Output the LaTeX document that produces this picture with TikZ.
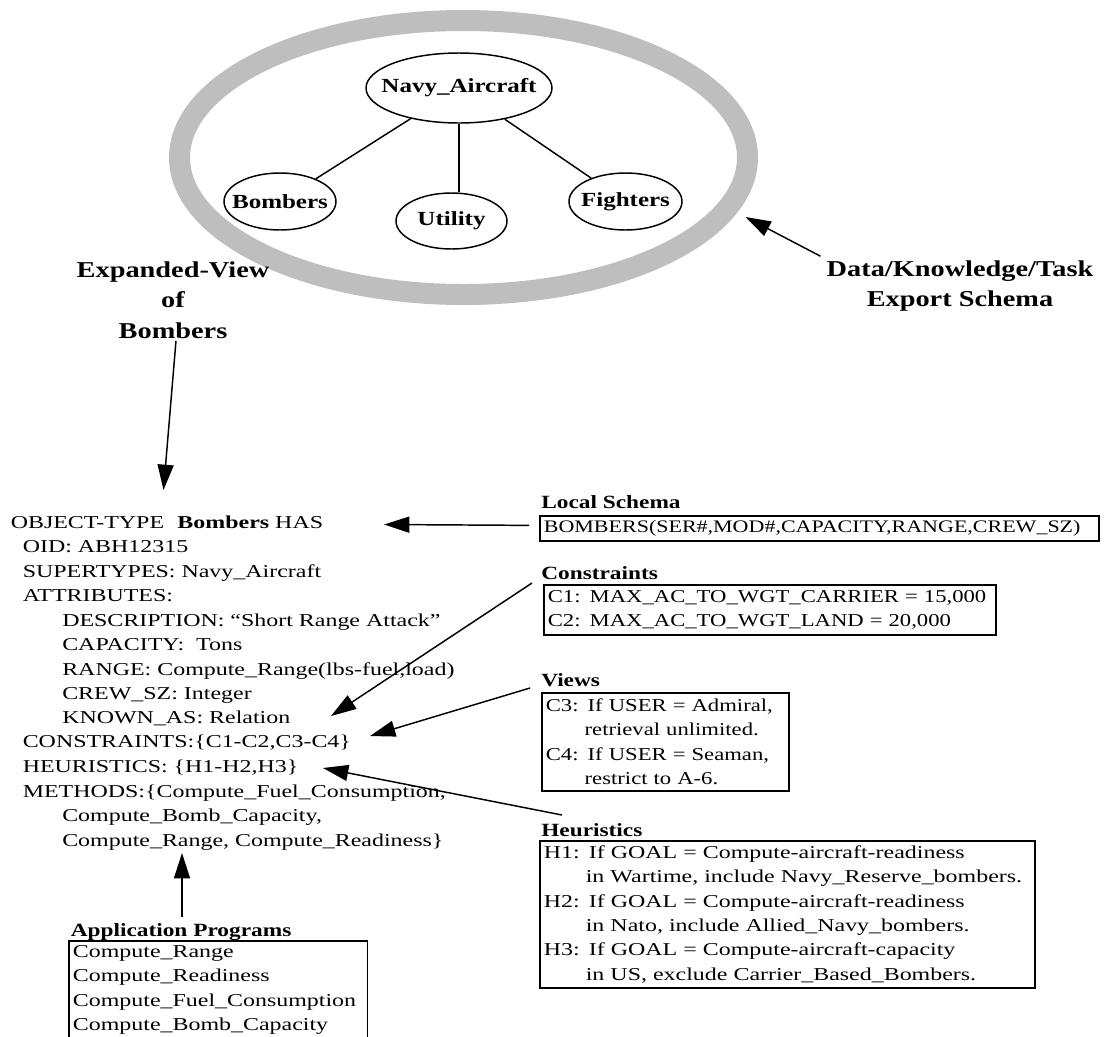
\documentclass[tikz,border=0pt]{standalone}
\usepackage{fontspec}
\setmainfont{Liberation Serif}[FakeStretch=1.25]
\newfontfamily\widefont{Liberation Serif}[FakeStretch=1.32]
\usetikzlibrary{shapes.geometric,arrows.meta}
\definecolor{ringgray}{RGB}{190,190,190}
\newcommand\bodyfont{\fontsize{13.6pt}{18.3pt}\selectfont}
\newcommand\widebody{\widefont\fontsize{13.6pt}{18.3pt}\selectfont}
\newcommand\headfont{\fontsize{14pt}{18pt}\selectfont\bfseries}
\newcommand\nodefont{\fontsize{15pt}{18pt}\selectfont\bfseries}
\newcommand\bigfont{\fontsize{17pt}{22.9pt}\selectfont\bfseries}
\begin{document}
\begin{tikzpicture}[x=0.75pt,y=-0.75pt,
  txt/.style={anchor=base west, inner sep=0pt, font=\widebody},
  head/.style={anchor=base west, inner sep=0pt, font=\headfont},
  big/.style={align=center, inner sep=0pt, font=\bigfont},
  enode/.style={ellipse, draw, line width=1.1pt, inner sep=0pt},
  lbl/.style={font=\nodefont, inner sep=0pt},
  box/.style={draw, line width=1.3pt, anchor=north west, inner xsep=3pt,
              inner ysep=0pt, align=left, font=\bodyfont},
  conn/.style={line width=1.1pt},
  arr/.style={-{Triangle[length=19pt,width=12pt]}, line width=1.1pt}]
\useasboundingbox (0,0) rectangle (1105,1036);

% export schema ring and its class hierarchy
\node[ellipse, draw=ringgray, line width=15.75pt, inner sep=0pt,
      minimum width=426pt, minimum height=205.5pt] (ring) at (463.5,157.5) {};
\node[enode, minimum width=139.5pt, minimum height=52.5pt,
      label={[lbl]center:Navy\_Aircraft}] (navy) at (459,88) {};
\node[enode, minimum width=84pt, minimum height=42.75pt,
      label={[lbl]center:Bombers}] (bombers) at (280,201.5) {};
\node[enode, minimum width=83.25pt, minimum height=42pt,
      label={[lbl]center:Utility}] (utility) at (451.5,221) {};
\node[enode, minimum width=84.75pt, minimum height=42.75pt,
      label={[lbl]center:Fighters}] (fighters) at (625.5,201.5) {};
\draw[conn] (navy) -- (bombers);
\draw[conn] (navy) -- (fighters);
\draw[conn] (navy.south) -- (navy.south |- utility.north);

% captions
\node[big] (expv) at (173,300) {Expanded-View\\of\\Bombers};
\node[big] (dkt) at (960,286) {Data/Knowledge/Task\\Export Schema};

% expanded object type
\node[txt] (o1) at (10.5,528) {OBJECT-TYPE\hspace{10pt}\textbf{Bombers} HAS};
\node[txt] (o2) at (22.5,552) {OID: ABH12315};
\node[txt] (o3) at (22.5,577) {SUPERTYPES: Navy\_Aircraft};
\node[txt] (o4) at (22.5,601) {ATTRIBUTES:};
\node[txt] (o5) at (62,626) {DESCRIPTION: “Short Range Attack”};
\node[txt] (o6) at (62,650) {CAPACITY:\ \ Tons};
\node[txt] (o7) at (62,675) {RANGE: Compute\_Range(lbs-fuel,load)};
\node[txt] (o8) at (62,699) {CREW\_SZ: Integer};
\node[txt] (o9) at (62,723) {KNOWN\_AS: Relation};
\node[txt] (o10) at (22.5,747) {CONSTRAINTS:\{C1-C2,C3-C4\}};
\node[txt] (o11) at (22.5,772) {HEURISTICS: \{H1-H2,H3\}};
\node[txt] (o12) at (22.5,797) {METHODS:\{Compute\_Fuel\_Consumption,};
\node[txt] (o13) at (62,821) {Compute\_Bomb\_Capacity,};
\node[txt] (o14) at (62,846) {Compute\_Range, Compute\_Readiness\}};

% local schema
\node[head] (lstitle) at (541,508) {Local Schema};
\node[box, minimum width=419.25pt, minimum height=18.75pt, text width=413.25pt,
      font=\fontsize{13.2pt}{18.3pt}\selectfont] (lsbox) at (539,515)
      {BOMBERS(SER\#,MOD\#,CAPACITY,RANGE,CREW\_SZ)};

% constraints
\node[head] (ctitle) at (541,579) {Constraints};
\node[box, minimum width=339pt, minimum height=37.5pt, text width=333pt] (cbox) at (543,584)
      {C1: MAX\_AC\_TO\_WGT\_CARRIER = 15,000\\C2: MAX\_AC\_TO\_WGT\_LAND = 20,000};

% views
\node[head] (vtitle) at (541,686) {Views};
\node[box, minimum width=185.25pt, minimum height=73.5pt, text width=179.25pt] (vbox) at (541,692)
      {C3: If USER = Admiral,\\\phantom{C3:} retrieval unlimited.\\
       C4: If USER = Seaman,\\\phantom{C4:} restrict to A-6.};

% heuristics
\node[head] (htitle) at (541,836) {Heuristics};
\node[box, font=\widebody, minimum width=371.6pt, minimum height=110.25pt, text width=365.6pt] (hbox) at (539,840)
      {H1: If GOAL = Compute-aircraft-readiness\\
       \phantom{H1:} in Wartime, include Navy\_Reserve\_bombers.\\
       H2: If GOAL = Compute-aircraft-readiness\\
       \phantom{H2:} in Nato, include Allied\_Navy\_bombers.\\
       H3: If GOAL = Compute-aircraft-capacity\\
       \phantom{H3:} in US, exclude Carrier\_Based\_Bombers.};

% application programs
\node[head] (atitle) at (70.5,936) {Application Programs};
\node[box, font=\widebody, minimum width=223.9pt, minimum height=73.5pt, text width=217.9pt] (abox) at (68,940)
      {Compute\_Range\\Compute\_Readiness\\Compute\_Fuel\_Consumption\\Compute\_Bomb\_Capacity};

% arrow tips
\coordinate (tipLS) at (384,524.5);
\coordinate (tipC) at (331,716);
\coordinate (tipV) at (370,736);
\coordinate (tipH) at (323,768);
\coordinate (tipA) at (182,853);
\coordinate (tipE) at (163.5,490);
\coordinate (tipD) at (745.5,217);

\draw[arr] ([shift={(-10,-3)}]lsbox.west) -- (tipLS);
\draw[arr] ([shift={(-11,-1)}]cbox.north west) -- (tipC);
\draw[arr] ([shift={(-11,-4)}]vbox.north west) -- (tipV);
\draw[arr] ([shift={(23,-25)}]hbox.north west) -- (tipH);
\draw[arr] ([shift={(114,-23)}]abox.north west) -- (tipA);
\draw[arr] ([shift={(3,2)}]expv.south) -- (tipE);
\draw[arr] ([shift={(-6,-4)}]dkt.north west) -- (tipD);
\end{tikzpicture}
\end{document}
